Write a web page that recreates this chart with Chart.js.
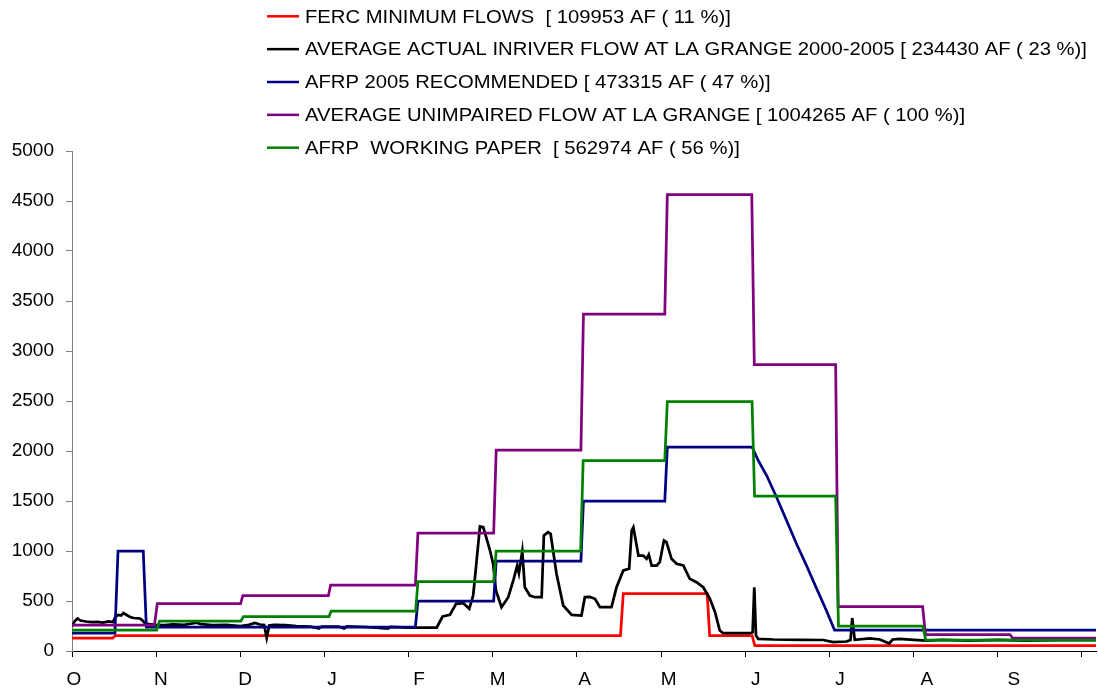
<!DOCTYPE html>
<html>
<head>
<meta charset="utf-8">
<script src="https://cdn.jsdelivr.net/npm/chart.js@4"></script>
<style>
  html, body { margin: 0; padding: 0; background: #fff; }
  #wrap { width: 1098px; height: 693px; }
</style>
</head>
<body>
<div id="wrap"><canvas id="myChart" width="1098" height="693"></canvas></div>
<script>
"use strict";

// x = day of water year (0 = Oct 1), y = flow in cfs
var monthStarts = [0, 31, 61, 92, 123, 151, 182, 212, 243, 273, 304, 335];
var monthLabels = ["O", "N", "D", "J", "F", "M", "A", "M", "J", "J", "A", "S"];
var tickDays = [0, 30, 60, 90, 120, 150, 180, 210, 240, 270, 300, 330, 360];
var flowTicks = [0, 500, 1000, 1500, 2000, 2500, 3000, 3500, 4000, 4500, 5000];

var seriesNames = [
    "FERC MINIMUM FLOWS  [ 109953 AF ( 11 %)]",
    "AVERAGE ACTUAL INRIVER FLOW AT LA GRANGE 2000-2005 [ 234430 AF ( 23 %)]",
    "AFRP 2005 RECOMMENDED [ 473315 AF ( 47 %)]",
    "AVERAGE UNIMPAIRED FLOW AT LA GRANGE [ 1004265 AF ( 100 %)]",
    "AFRP  WORKING PAPER  [ 562974 AF ( 56 %)]"
];

var fercDays = [0, 14.5, 15.5, 195.5, 196.5, 226.4, 227.3, 242.4, 243.4, 365];
var fercFlow = [130, 130, 155, 155, 575, 575, 155, 155, 55, 55];

var actualDays = [0, 1, 2, 3, 5, 7, 9, 11, 13, 14.6, 15.5, 16.5, 17.5, 18.3, 19.5, 20.7, 22, 24.2, 25, 26,
    27.5, 30, 33, 36, 40, 44.4, 46, 50, 55, 60, 63, 65.2, 67, 68.5, 69.4, 70.3, 72, 76, 80, 85,
    88, 89, 95, 97, 98, 105, 112.6, 113.5, 120, 130, 132.1, 134.7, 136.9, 139.5, 141.6, 143, 144, 145.4, 146.6, 149,
    150.1, 151.1, 153.1, 155.5, 157.3, 158.7, 159.3, 160.5, 161.4, 163.2, 165, 167.4, 168.2, 169.7, 170.6, 172.7, 175.1, 178.1, 181.6, 182.8,
    184.6, 186.4, 188.2, 192.3, 194.1, 196.5, 198.6, 199.5, 200.1, 201.9, 203.6, 204.8, 205.6, 206.6, 208.4, 209.5, 211, 211.9, 213.7, 215.5,
    217.9, 220.2, 222.6, 225, 227.4, 229.2, 230.9, 232.1, 241.6, 242.6, 243.2, 243.8, 244.6, 250, 260, 267.8, 271.3, 276, 277.5, 278.1,
    279, 284.4, 288, 291.3, 292.5, 295, 300, 304.6, 310, 320, 330, 340, 350, 365];
var actualFlow = [245, 300, 325, 305, 295, 288, 292, 285, 295, 290, 345, 360, 355, 380, 360, 340, 330, 325, 310, 277,
    268, 262, 258, 265, 262, 283, 268, 260, 262, 250, 262, 280, 265, 260, 130, 255, 262, 258, 248, 245,
    225, 245, 245, 225, 245, 240, 225, 240, 235, 235, 345, 362, 472, 478, 422, 555, 838, 1245, 1238, 1005,
    872, 605, 438, 538, 705, 855, 778, 998, 638, 555, 538, 538, 1155, 1188, 1172, 772, 455, 362, 355, 538,
    540, 522, 438, 438, 638, 805, 822, 1205, 1238, 955, 955, 922, 965, 855, 855, 888, 1105, 1088, 922, 872,
    855, 722, 688, 638, 522, 388, 205, 178, 178, 188, 638, 155, 122, 115, 112, 110, 88, 95, 110, 330,
    112, 125, 115, 75, 115, 120, 112, 105, 110, 105, 110, 105, 108, 110];

var afrp2005Days = [0, 15.3, 16.4, 25.4, 26.5, 122.4, 123.3, 150.3, 151.2, 181.4, 182.3, 211.3, 212.2, 242.4,
    244.6, 247.6, 251.1, 254.7, 258.2, 261.8, 265.4, 268.9, 271.8, 365];
var afrp2005Flow = [180, 180, 1000, 1000, 240, 240, 500, 500, 900, 900, 1500, 1500, 2040, 2040,
    1905, 1755, 1540, 1305, 1075, 855, 625, 405, 210, 210];

var unimpairedDays = [0, 29.4, 30.4, 60.1, 60.9, 91.4, 92.2, 122.4, 123.3, 150.3, 151.2, 181.4, 182.3, 211.3, 212.2,
    242.3, 243.2, 272.2, 273.1, 303.2, 304.2, 334.3, 335.3, 365];
var unimpairedFlow = [260, 260, 475, 475, 555, 555, 660, 660, 1180, 1180, 2010, 2010, 3370, 3370, 4565,
    4565, 2865, 2865, 445, 445, 165, 165, 130, 130];

var workingDays = [0, 30.2, 31.2, 60.2, 61.1, 91.6, 92.4, 122.5, 123.3, 150.3, 151.2, 181.3, 182.2, 211.3, 212.2,
    242.4, 243.3, 272.2, 273.2, 303.3, 304.3, 365];
var workingFlow = [210, 210, 300, 300, 345, 345, 400, 400, 695, 695, 1000, 1000, 1905, 1905, 2495,
    2495, 1550, 1550, 250, 250, 110, 110];

function toPoints(days, flow) {
    return days.map(function (d, i) { return { x: d, y: flow[i] }; });
}

var FONT = "'Liberation Sans', Arial, sans-serif";

// legend drawn one item per row, left aligned, like the original
var rowLegend = {
    id: "rowLegend",
    afterDraw: function (chart) {
        var ctx = chart.ctx;
        ctx.save();
        ctx.font = "19px " + FONT;
        ctx.textBaseline = "middle";
        ctx.textAlign = "left";
        chart.data.datasets.forEach(function (ds, i) {
            var y = 16.3 + i * 32.85;
            ctx.strokeStyle = ds.borderColor;
            ctx.lineWidth = 2.5;
            ctx.beginPath();
            ctx.moveTo(267, y);
            ctx.lineTo(299, y);
            ctx.stroke();
            ctx.save();
            ctx.translate(305, y + 1);
            ctx.scale(1.065, 1);
            ctx.fillStyle = "#000";
            ctx.fillText(ds.label, 0, 0);
            ctx.restore();
        });
        ctx.restore();
    }
};

var ctx = document.getElementById("myChart");

var data = {
    datasets: [
        { label: seriesNames[0], data: toPoints(fercDays, fercFlow), borderColor: "#ff0000", order: 5 },
        { label: seriesNames[1], data: toPoints(actualDays, actualFlow), borderColor: "#000000", order: 4 },
        { label: seriesNames[2], data: toPoints(afrp2005Days, afrp2005Flow), borderColor: "#000080", order: 3 },
        { label: seriesNames[3], data: toPoints(unimpairedDays, unimpairedFlow), borderColor: "#800080", order: 2 },
        { label: seriesNames[4], data: toPoints(workingDays, workingFlow), borderColor: "#008000", order: 1 }
    ]
};

var myLineChart = new Chart(ctx, {
    type: "line",
    data: data,
    plugins: [rowLegend],
    options: {
        responsive: false,
        animation: false,
        layout: { padding: { top: 151, right: 2, left: 0, bottom: 0 } },
        elements: {
            point: { radius: 0, hoverRadius: 0 },
            line: { borderWidth: 2.75, tension: 0, fill: false, borderJoinStyle: "miter" }
        },
        plugins: {
            legend: { display: false },
            tooltip: { enabled: false }
        },
        scales: {
            x: {
                type: "linear",
                min: 0,
                max: 365,
                afterBuildTicks: function (scale) {
                    var vals = tickDays.concat(monthStarts.slice(1));
                    vals.sort(function (a, b) { return a - b; });
                    scale.ticks = vals.map(function (v) { return { value: v }; });
                },
                afterFit: function (scale) { scale.height = 42; },
                ticks: {
                    autoSkip: false,
                    maxRotation: 0,
                    padding: 11,
                    labelOffset: 2,
                    color: "#000",
                    font: { family: FONT, size: 19 },
                    callback: function (value) {
                        var k = monthStarts.indexOf(value);
                        return k >= 0 ? monthLabels[k] : "";
                    }
                },
                grid: {
                    drawOnChartArea: false,
                    drawTicks: true,
                    tickLength: 6,
                    tickColor: function (c) {
                        if (!c.tick) return "#000";
                        return tickDays.indexOf(c.tick.value) >= 0 ? "#000" : "rgba(0,0,0,0)";
                    }
                },
                border: { display: true, color: "#000", width: 1 }
            },
            y: {
                min: 0,
                max: 5000,
                afterBuildTicks: function (scale) {
                    scale.ticks = flowTicks.map(function (v) { return { value: v }; });
                },
                afterFit: function (scale) { scale.width = 72; },
                ticks: {
                    padding: 12,
                    color: "#000",
                    font: { family: FONT, size: 19 },
                    callback: function (value) { return String(value); }
                },
                grid: {
                    drawOnChartArea: false,
                    drawTicks: true,
                    tickLength: 6,
                    tickColor: "#808080"
                },
                border: { display: true, color: "#808080", width: 1 }
            }
        }
    }
});
</script>
</body>
</html>
